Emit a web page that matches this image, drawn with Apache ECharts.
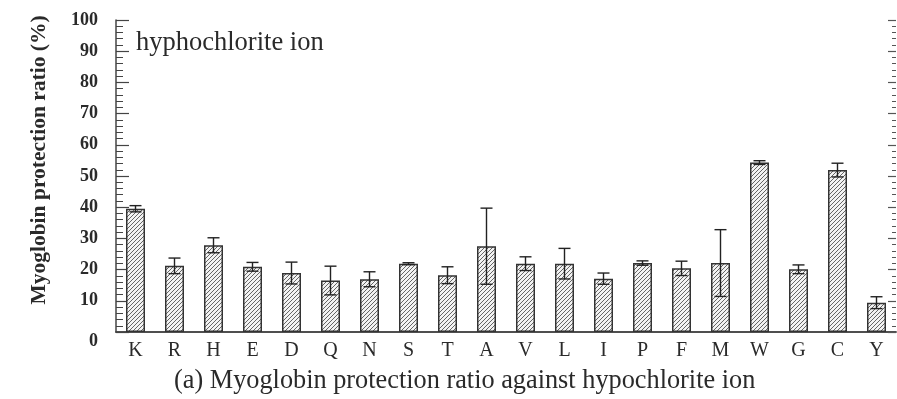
<!DOCTYPE html>
<html><head><meta charset="utf-8">
<script src="https://cdn.jsdelivr.net/npm/echarts@6/dist/echarts.min.js"></script>
<style>html,body{margin:0;padding:0;background:#fff}#c{width:897px;height:399px}</style>
</head><body><div id="c"></div>
<script>
var categories = ['K','R','H','E','D','Q','N','S','T','A','V','L','I','P','F','M','W','G','C','Y'];
var ratioValues = [39.5,21.2,27.8,20.9,18.9,16.5,16.9,21.9,18.2,27.5,21.9,21.9,17.1,22.1,20.4,22.1,54.3,20.1,51.9,9.4];
var errorValues = [1.0,2.5,2.4,1.4,3.5,4.6,2.4,0.3,2.7,12.2,2.2,4.9,1.8,0.7,2.3,10.7,0.6,1.4,2.2,1.9];
var yTicks = [0,10,20,30,40,50,60,70,80,90,100];
var annotationText = 'hyphochlorite ion';
var captionText = '(a) Myoglobin protection ratio against hypochlorite ion';
var yAxisTitle = 'Myoglobin protection ratio (%)';

var serif = '"Liberation Serif","DejaVu Serif",serif';
var ink = '#2a2a2a';

// hatch pattern
var pc = document.createElement('canvas');
pc.width = 4; pc.height = 4;
var g = pc.getContext('2d');
g.fillStyle = '#f2f2f2'; g.fillRect(0,0,4,4);
g.strokeStyle = '#555'; g.lineWidth = 0.9;
g.beginPath();
g.moveTo(-1,5); g.lineTo(5,-1);
g.moveTo(-1,1); g.lineTo(1,-1);
g.moveTo(3,5); g.lineTo(5,3);
g.stroke();

var errData = categories.map(function(c,i){ return [i, ratioValues[i]-errorValues[i], ratioValues[i]+errorValues[i]]; });

var chart = echarts.init(document.getElementById('c'), null, {renderer:'canvas'});
chart.setOption({
  animation:false,
  backgroundColor:'#fff',
  title:[
    {text: annotationText, left:136, top:30, textStyle:{fontFamily:serif, fontWeight:'normal', fontSize:26.5, color:ink}, padding:0},
    {text: captionText, left:174, top:368, textStyle:{fontFamily:serif, fontWeight:'normal', fontSize:26.3, color:ink}, padding:0}
  ],
  grid:{left:116, top:20, width:780, height:312, containLabel:false},
  xAxis:[{
    type:'category', data:categories, position:'bottom',
    axisLine:{lineStyle:{color:'#444', width:1.5}},
    axisTick:{inside:true, length:10, lineStyle:{color:'#444', width:1.2}},
    axisLabel:{fontFamily:serif, fontSize:20, color:ink, margin:9},
    splitLine:{show:false}
  },{
    type:'category', data:categories, position:'top',
    axisLine:{lineStyle:{color:'#444', width:1.5}},
    axisTick:{show:false}, axisLabel:{show:false}
  }],
  yAxis:[{
    type:'value', min:0, max:100, interval:10, position:'left',
    name: yAxisTitle, nameLocation:'middle', nameGap:66, nameRotate:90,
    nameTextStyle:{fontFamily:serif, fontWeight:'bold', fontSize:21.5, color:ink, padding:[0,0,0,32]},
    axisLine:{show:true, lineStyle:{color:'#444', width:1.5}},
    axisTick:{show:true, inside:true, length:13, lineStyle:{color:'#444', width:1.2}},
    minorTick:{show:true, splitNumber:5, length:7, lineStyle:{color:'#444', width:1}},
    axisLabel:{fontFamily:serif, fontWeight:'bold', fontSize:18, color:ink, margin:18,
      formatter:function(v){ return yTicks.indexOf(v)===0 ? '{z|'+v+'}' : '{n|'+v+'}'; },
      rich:{z:{fontFamily:serif, fontWeight:'bold', fontSize:18, color:ink, padding:[18,0,0,0]},
            n:{fontFamily:serif, fontWeight:'bold', fontSize:18, color:ink}}},
    splitLine:{show:false}
  },{
    type:'value', min:0, max:100, interval:10, position:'right',
    axisLine:{show:false},
    axisTick:{show:true, inside:true, length:8, lineStyle:{color:'#555', width:1.2}},
    minorTick:{show:true, splitNumber:5, length:4, lineStyle:{color:'#555', width:1}},
    axisLabel:{show:false}, splitLine:{show:false}
  }],
  series:[{
    type:'bar', data:ratioValues, barWidth:19, xAxisIndex:0, yAxisIndex:0,
    itemStyle:{color:{image:pc, repeat:'repeat'}, borderColor:'#333', borderWidth:1.5},
    z:2
  },{
    type:'custom', data:errData, xAxisIndex:0, yAxisIndex:0, z:5,
    encode:{x:0, y:[1,2]},
    renderItem:function(params, api){
      var x = api.value(0);
      var lo = api.coord([x, api.value(1)]);
      var hi = api.coord([x, api.value(2)]);
      var hw = 6, st = {stroke:'#222', lineWidth:1.4};
      return {type:'group', children:[
        {type:'line', shape:{x1:hi[0]-hw, y1:hi[1], x2:hi[0]+hw, y2:hi[1]}, style:st},
        {type:'line', shape:{x1:hi[0], y1:hi[1], x2:lo[0], y2:lo[1]}, style:st},
        {type:'line', shape:{x1:lo[0]-hw, y1:lo[1], x2:lo[0]+hw, y2:lo[1]}, style:st}
      ]};
    }
  }]
});
</script>
</body></html>
